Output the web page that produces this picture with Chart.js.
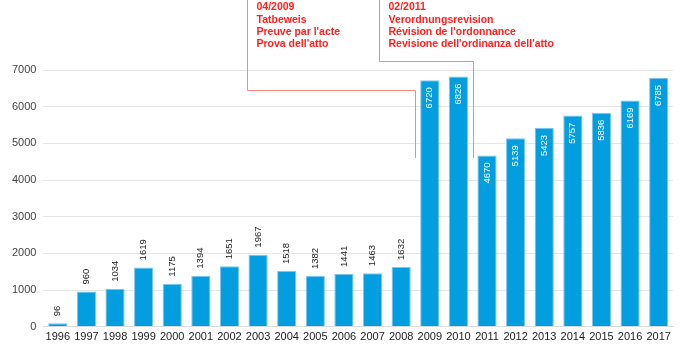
<!DOCTYPE html>
<html>
<head>
<meta charset="utf-8">
<script src="https://cdn.jsdelivr.net/npm/chart.js@4"></script>
<style>
  html, body { margin: 0; padding: 0; background: #fff; }
  #wrap { width: 690px; height: 345px; }
</style>
</head>
<body>
<div id="wrap"><canvas id="grafico"></canvas></div>
<script>
const years = ['1996','1997','1998','1999','2000','2001','2002','2003','2004','2005','2006','2007','2008','2009','2010','2011','2012','2013','2014','2015','2016','2017'];
const counts = [96,960,1034,1619,1175,1394,1651,1967,1518,1382,1441,1463,1632,6720,6826,4670,5139,5423,5757,5836,6169,6785];
const yTicks = [0,1000,2000,3000,4000,5000,6000,7000];

const note1 = ['04/2009', 'Tatbeweis', 'Preuve par l\'acte', 'Prova dell\'atto'];
const note2 = ['02/2011', 'Verordnungsrevision', 'Révision de l\'ordonnance', 'Revisione dell\'ordinanza dell\'atto'];

// labels rotated on the bars: dark above small bars, white inside tall ones
const barLabels = {
    id: 'barLabels',
    afterDatasetsDraw(chart) {
        const ctx = chart.ctx;
        const meta = chart.getDatasetMeta(0);
        ctx.save();
        ctx.font = '9.5px "Liberation Sans", Arial, sans-serif';
        ctx.textBaseline = 'middle';
        meta.data.forEach((bar, i) => {
            const v = counts[i];
            ctx.save();
            ctx.translate(bar.x, bar.y);
            ctx.rotate(-Math.PI / 2);
            if (v > 3000) {
                ctx.fillStyle = '#ffffff';
                ctx.textAlign = 'right';
                ctx.fillText(String(v), -7, 0);
            } else {
                ctx.fillStyle = '#222222';
                ctx.textAlign = 'left';
                ctx.fillText(String(v), 7, 0);
            }
            ctx.restore();
        });
        ctx.restore();
    }
};

// red annotation lines and texts
const notes = {
    id: 'notes',
    afterDraw(chart) {
        const ctx = chart.ctx;
        const x = chart.scales.x;
        const y = chart.scales.y;
        const drawNote = (topIdx, dropIdx, elbowVal, lines) => {
            const x0 = Math.round(x.getPixelForValue(topIdx)) + 0.5;
            const x1 = Math.round(x.getPixelForValue(dropIdx)) + 0.5;
            const yE = Math.round(y.getPixelForValue(elbowVal)) + 0.5;
            const yB = Math.round(y.getPixelForValue(4600));
            ctx.save();
            ctx.strokeStyle = '#ff8585';
            ctx.lineWidth = 1;
            ctx.beginPath();
            ctx.moveTo(x0, 0);
            ctx.lineTo(x0, yE);
            ctx.lineTo(x1, yE);
            ctx.lineTo(x1, yB);
            ctx.stroke();
            ctx.fillStyle = '#ff1f1f';
            ctx.font = 'bold 10.5px "Liberation Sans", Arial, sans-serif';
            ctx.textBaseline = 'middle';
            ctx.textAlign = 'left';
            lines.forEach((t, k) => {
                ctx.fillText(t, x0 + 9, 7.5 + k * 12.3);
            });
            ctx.restore();
        };
        drawNote(6.6, 12.5, 6450, note1);
        drawNote(11.24, 14.5, 7250, note2);
    }
};

const ctx = document.getElementById('grafico');

new Chart(ctx, {
    type: 'bar',
    data: {
        labels: years,
        datasets: [{
            data: counts,
            backgroundColor: '#029ee0',
            borderColor: '#7cc6ee',
            borderWidth: 1,
            categoryPercentage: 1,
            barPercentage: 0.67
        }]
    },
    options: {
        responsive: true,
        maintainAspectRatio: false,
        animation: false,
        layout: { padding: { top: 70, right: 17, left: 5, bottom: -3 } },
        plugins: {
            legend: { display: false },
            tooltip: { enabled: false }
        },
        scales: {
            x: {
                grid: { display: false, drawTicks: false, tickLength: 0 },
                border: { color: '#dddddd' },
                ticks: {
                    color: '#222',
                    font: { size: 11, family: '"Liberation Sans", Arial, sans-serif' },
                    maxRotation: 0,
                    autoSkip: false,
                    padding: 4
                }
            },
            y: {
                min: 0,
                max: 7000,
                afterBuildTicks(axis) {
                    axis.ticks = yTicks.map(v => ({ value: v }));
                },
                border: { display: false },
                grid: { color: '#e6e6e6', drawTicks: false },
                ticks: {
                    color: '#444',
                    font: { size: 11, family: '"Liberation Sans", Arial, sans-serif' },
                    padding: 7,
                    callback: v => String(v)
                }
            }
        }
    },
    plugins: [barLabels, notes]
});
</script>
</body>
</html>
